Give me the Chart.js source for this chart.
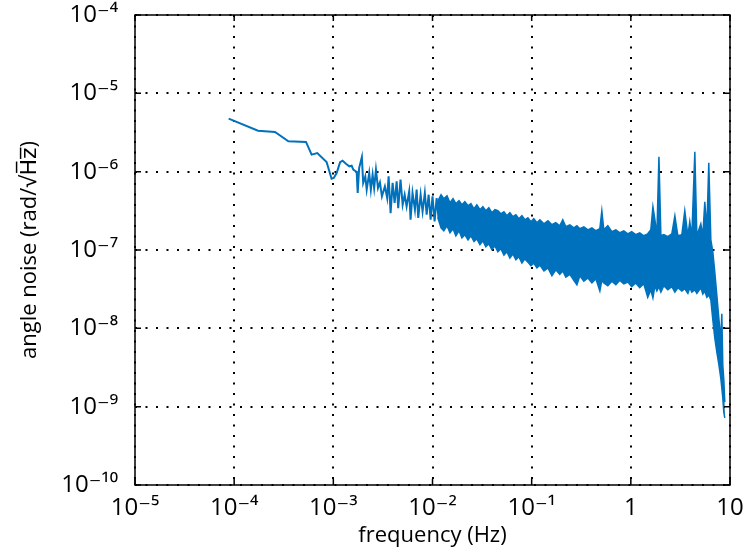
<!DOCTYPE html>
<html>
<head>
<meta charset="utf-8">
<script src="https://cdn.jsdelivr.net/npm/chart.js@4.4.0/dist/chart.umd.min.js"></script>
<style>
  html, body { margin: 0; padding: 0; background: #fff; }
  #wrap { width: 743px; height: 550px; }
</style>
</head>
<body>
<div id="wrap"><canvas id="noiseChart" width="743" height="550"></canvas></div>
<script>
// ============================================
// DATA
// ============================================
// low frequency part, single trace
const lowFreq = [
  8.8e-5, 1.74e-4, 2.58e-4, 3.52e-4, 5.3e-4, 6.04e-4, 6.89e-4, 8.55e-4, 9.6e-4, 1.01e-3,
  1.08e-3, 1.17e-3, 1.24e-3, 1.34e-3, 1.45e-3, 1.53e-3, 1.59e-3, 1.72e-3, 1.76e-3, 1.82e-3,
  1.94e-3, 2.0e-3, 2.10e-3, 2.17e-3, 2.30e-3, 2.39e-3, 2.49e-3, 2.58e-3, 2.69e-3, 2.82e-3,
  2.95e-3, 3.09e-3, 3.31e-3, 3.49e-3, 3.61e-3, 3.78e-3, 3.96e-3, 4.15e-3, 4.35e-3, 4.51e-3,
  4.76e-3, 5.0e-3, 5.24e-3, 5.48e-3, 5.82e-3, 6.01e-3, 6.29e-3, 6.65e-3, 6.92e-3, 7.18e-3,
  7.59e-3, 7.94e-3, 8.37e-3, 8.73e-3, 9.14e-3, 9.57e-3, 1.0e-2, 1.05e-2, 1.10e-2, 1.15e-2
];
const lowNoise = [
  4.76e-6, 3.34e-6, 3.22e-6, 2.44e-6, 2.40e-6, 1.65e-6, 1.73e-6, 1.33e-6, 8.13e-7, 8.3e-7,
  9.6e-7, 1.32e-6, 1.38e-6, 1.26e-6, 1.17e-6, 1.19e-6, 1.06e-6, 9.9e-7, 5.35e-7, 1.11e-6,
  1.54e-6, 7.18e-7, 8.7e-7, 5.89e-7, 9.6e-7, 5.89e-7, 9.16e-7, 6.19e-7, 1.06e-6, 6.19e-7,
  7.3e-7, 4.83e-7, 6.49e-7, 4.61e-7, 8.7e-7, 2.96e-7, 7.18e-7, 3.98e-7, 7.52e-7, 3.43e-7,
  7.9e-7, 3.78e-7, 5.08e-7, 3.60e-7, 5.6e-7, 2.43e-7, 5.35e-7, 3.27e-7, 5.89e-7, 2.56e-7,
  5.08e-7, 3.10e-7, 5.35e-7, 2.82e-7, 5.08e-7, 2.43e-7, 4.83e-7, 2.31e-7, 4.61e-7, 2.56e-7
];

// dense part: upper and lower edge of the noise band (spikes kept in the upper edge)
const bandFreq = [
  1.13e-2, 1.22e-2, 1.30e-2, 1.40e-2, 1.50e-2, 1.61e-2, 1.72e-2, 1.85e-2, 1.98e-2, 2.12e-2,
  2.28e-2, 2.44e-2, 2.62e-2, 2.80e-2, 3.01e-2, 3.22e-2, 3.45e-2, 3.70e-2, 3.97e-2, 4.26e-2,
  4.56e-2, 4.89e-2, 5.25e-2, 5.62e-2, 6.03e-2, 6.46e-2, 6.93e-2, 7.43e-2, 7.97e-2, 8.54e-2,
  9.16e-2, 9.82e-2, 0.105, 0.113, 0.121,
  0.133, 0.146, 0.160, 0.175, 0.192, 0.206, 0.221, 0.243, 0.266, 0.286,
  0.306, 0.336, 0.369, 0.405, 0.444, 0.487, 0.510, 0.534, 0.586, 0.643,
  0.706, 0.775, 0.850, 0.933, 1.02, 1.12, 1.23, 1.35, 1.48,
  1.59, 1.67, 1.75, 1.83, 1.92, 2.01, 2.15, 2.36, 2.59, 2.78,
  2.98, 3.27, 3.50, 3.76, 3.93, 4.12, 4.42, 4.63, 5.08, 5.32,
  5.57, 5.84, 6.11, 6.41, 6.71, 7.03, 7.36, 7.71, 8.08, 8.27,
  8.46, 8.66, 8.86
];
const bandUpper = [
  4.2e-7, 5.08e-7, 4.52e-7, 4.93e-7, 4.01e-7, 4.52e-7, 3.90e-7, 4.26e-7, 3.78e-7, 4.13e-7,
  3.67e-7, 3.90e-7, 3.36e-7, 3.78e-7, 3.27e-7, 3.57e-7, 3.17e-7, 3.46e-7, 2.99e-7, 3.27e-7,
  3.17e-7, 2.90e-7, 3.08e-7, 2.74e-7, 2.99e-7, 2.66e-7, 2.82e-7, 2.51e-7, 2.74e-7, 2.43e-7,
  2.58e-7, 2.30e-7, 2.51e-7, 2.23e-7, 2.43e-7,
  2.16e-7, 2.36e-7, 2.10e-7, 2.23e-7, 2.04e-7, 2.43e-7, 1.98e-7, 2.10e-7, 1.92e-7, 2.04e-7,
  1.87e-7, 1.98e-7, 1.81e-7, 1.92e-7, 1.76e-7, 1.87e-7, 3.17e-7, 1.81e-7, 2.04e-7, 1.71e-7,
  1.81e-7, 1.66e-7, 1.76e-7, 1.61e-7, 1.71e-7, 1.57e-7, 1.66e-7, 1.52e-7, 1.61e-7,
  1.81e-7, 3.57e-7, 2.43e-7, 1.52e-7, 1.55e-6, 1.52e-7, 1.57e-7, 1.48e-7, 1.61e-7, 2.74e-7,
  1.52e-7, 1.57e-7, 3.17e-7, 1.52e-7, 2.30e-7, 1.48e-7, 1.80e-6, 1.52e-7, 2.16e-7, 1.52e-7,
  4.13e-7, 1.81e-7, 1.30e-6, 1.35e-7, 9.5e-8, 5.2e-8, 2.67e-8, 1.36e-8, 7.1e-9, 1.53e-8,
  3.4e-9, 2.2e-9, 1.15e-9
];
const bandLower = [
  2.6e-7, 1.92e-7, 1.76e-7, 2.04e-7, 1.66e-7, 1.87e-7, 1.52e-7, 1.76e-7, 1.43e-7, 1.57e-7,
  1.35e-7, 1.52e-7, 1.28e-7, 1.39e-7, 1.17e-7, 1.31e-7, 1.10e-7, 1.20e-7, 1.01e-7, 1.13e-7,
  9.5e-8, 1.04e-7, 8.6e-8, 9.5e-8, 7.9e-8, 8.9e-8, 7.5e-8, 8.2e-8, 6.8e-8, 7.7e-8,
  7.0e-8, 6.3e-8, 6.8e-8, 5.9e-8, 6.4e-8,
  5.4e-8, 5.9e-8, 4.7e-8, 5.6e-8, 4.9e-8, 5.4e-8, 4.5e-8, 4.9e-8, 4.1e-8, 3.6e-8,
  4.7e-8, 4.0e-8, 4.4e-8, 3.8e-8, 4.3e-8, 3.0e-8, 4.1e-8, 3.8e-8, 3.5e-8, 4.0e-8,
  3.6e-8, 4.1e-8, 3.7e-8, 3.9e-8, 3.4e-8, 3.8e-8, 3.3e-8, 3.7e-8, 2.5e-8,
  3.1e-8, 2.45e-8, 3.5e-8, 3.0e-8, 3.4e-8, 2.9e-8, 3.5e-8, 3.1e-8, 3.4e-8, 2.9e-8,
  3.3e-8, 3.0e-8, 3.2e-8, 2.8e-8, 3.3e-8, 2.9e-8, 3.1e-8, 2.8e-8, 3.3e-8, 2.75e-8,
  3.0e-8, 2.5e-8, 2.67e-8, 2.3e-8, 1.28e-8, 7.5e-9, 5.0e-9, 3.5e-9, 2.3e-9, 1.73e-9,
  1.29e-9, 8.5e-10, 7.2e-10
];

// axis ticks
const freqTicks = [1e-5, 1e-4, 1e-3, 1e-2, 1e-1, 1, 10];
const freqTickLabels = ['10⁻⁵', '10⁻⁴', '10⁻³', '10⁻²', '10⁻¹', '1', '10'];
const noiseTicks = [1e-10, 1e-9, 1e-8, 1e-7, 1e-6, 1e-5, 1e-4];
const noiseTickLabels = ['10⁻¹⁰', '10⁻⁹', '10⁻⁸', '10⁻⁷', '10⁻⁶', '10⁻⁵', '10⁻⁴'];

// ============================================
// HELPERS
// ============================================
const BLUE = '#0072BD';
const FONT = '"Open Sans", "DejaVu Sans", sans-serif';

function toPoints(xs, ys) {
  return xs.map((x, i) => ({ x: x, y: ys[i] }));
}

function decadeTicks(values) {
  return function (scale) {
    scale.ticks = values.map(v => ({ value: v }));
  };
}

function labelFor(values, labels) {
  return function (value) {
    const i = values.findIndex(v => Math.abs(Math.log10(v) - Math.log10(value)) < 1e-6);
    return i >= 0 ? labels[i] : '';
  };
}

// box round the plot with small inward ticks
const axesBox = {
  id: 'axesBox',
  afterDraw(chart) {
    const { ctx, chartArea: a, scales } = chart;
    ctx.save();
    ctx.strokeStyle = '#000';
    ctx.lineWidth = 1.5;
    ctx.strokeRect(a.left, a.top, a.right - a.left, a.bottom - a.top);
    ctx.beginPath();
    freqTicks.forEach(v => {
      const x = scales.x.getPixelForValue(v);
      ctx.moveTo(x, a.bottom); ctx.lineTo(x, a.bottom - 6);
      ctx.moveTo(x, a.top); ctx.lineTo(x, a.top + 6);
    });
    noiseTicks.forEach(v => {
      const y = scales.y.getPixelForValue(v);
      ctx.moveTo(a.left, y); ctx.lineTo(a.left + 6, y);
      ctx.moveTo(a.right, y); ctx.lineTo(a.right - 6, y);
    });
    ctx.stroke();
    ctx.restore();
  }
};

// ============================================
// CHART
// ============================================
const gridStyle = {
  color: '#000',
  lineWidth: 2,
  drawTicks: false
};

new Chart(document.getElementById('noiseChart'), {
  type: 'line',
  data: {
    datasets: [
      {
        data: toPoints(lowFreq, lowNoise),
        borderColor: BLUE,
        borderWidth: 2,
        pointRadius: 0,
        tension: 0,
        fill: false
      },
      {
        data: toPoints(bandFreq, bandUpper),
        borderColor: BLUE,
        backgroundColor: BLUE,
        borderWidth: 1.5,
        pointRadius: 0,
        tension: 0,
        fill: '+1'
      },
      {
        data: toPoints(bandFreq, bandLower),
        borderColor: BLUE,
        borderWidth: 1.5,
        pointRadius: 0,
        tension: 0,
        fill: false
      }
    ]
  },
  options: {
    responsive: false,
    animation: false,
    devicePixelRatio: 1,
    layout: { padding: { top: 15, right: 13, left: 0, bottom: 0 } },
    plugins: {
      legend: { display: false },
      tooltip: { enabled: false }
    },
    scales: {
      x: {
        type: 'logarithmic',
        min: 1e-5,
        max: 10,
        afterBuildTicks: decadeTicks(freqTicks),
        afterFit: scale => {
          scale.height = 65;
          scale.paddingLeft = 0;
          scale.paddingRight = 0;
        },
        grid: gridStyle,
        border: { display: false, dash: [2, 8.5] },
        ticks: {
          callback: labelFor(freqTicks, freqTickLabels),
          autoSkip: false,
          maxRotation: 0,
          padding: 9,
          color: '#000',
          font: { family: FONT, size: 24 }
        },
        title: {
          display: true,
          text: 'frequency (Hz)',
          color: '#000',
          padding: { top: 0, bottom: 1 },
          font: { family: FONT, size: 22 }
        }
      },
      y: {
        type: 'logarithmic',
        min: 1e-10,
        max: 1e-4,
        afterBuildTicks: decadeTicks(noiseTicks),
        afterFit: scale => {
          scale.width = 135;
          scale.paddingTop = 0;
          scale.paddingBottom = 0;
        },
        grid: gridStyle,
        border: { display: false, dash: [2, 8.5] },
        ticks: {
          callback: labelFor(noiseTicks, noiseTickLabels),
          autoSkip: false,
          padding: 17,
          color: '#000',
          font: { family: FONT, size: 24 }
        },
        title: {
          display: true,
          text: 'angle noise (rad/√H̅z̅)',
          color: '#000',
          padding: { top: 17, bottom: 0 },
          font: { family: FONT, size: 22 }
        }
      }
    }
  },
  plugins: [axesBox]
});
</script>
</body>
</html>
